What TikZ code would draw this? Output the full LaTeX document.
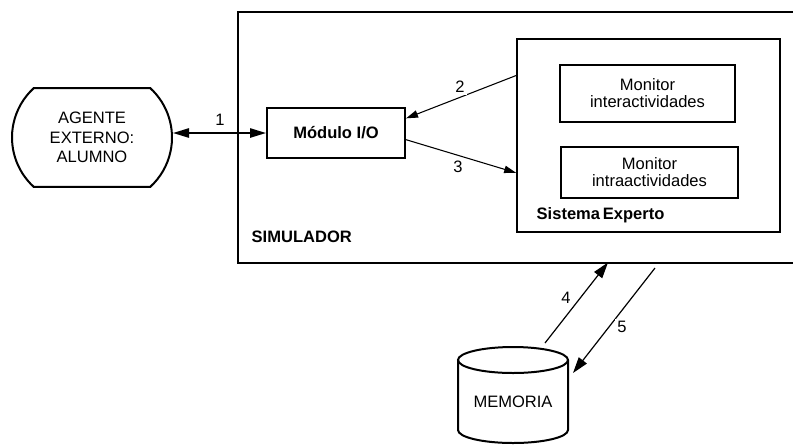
\documentclass[tikz,border=0pt]{standalone}
\usepackage{fontspec}
\setmainfont{Liberation Sans}
\usetikzlibrary{arrows.meta, shapes.misc}

\tikzset{
  box/.style={draw, line width=1.5pt, inner sep=0pt},
  flow/.style={line width=0.8pt, -{Triangle[length=9pt,width=5.5pt]}},
  bigflow/.style={line width=0.9pt, -{Triangle[length=12pt,width=7.5pt]}},
  num/.style={inner sep=1.5pt, fill=white}
}

\begin{document}
\begin{tikzpicture}[x=0.75pt, y=-0.75pt, font=\fontsize{12.4}{14.6}\selectfont]
  \useasboundingbox (0,0) rectangle (793,444);

  % Simulador (open on the right)
  \draw[line width=1.5pt] (793,12) -- (238,12) -- (238,262.5) -- (793,262.5);
  \node[anchor=west, font=\fontsize{12.4}{14.6}\selectfont\bfseries] (simlabel) at (247,237) {SIMULADOR};

  % External agent
  \node[box, rounded rectangle, rounded rectangle arc length=95, minimum width=120pt, minimum height=74pt, align=center] (agente) at (92,137.5) {AGENTE\\EXTERNO:\\ALUMNO};

  % I/O module
  \node[box, minimum width=103.5pt, minimum height=37.5pt, font=\fontsize{12.4}{14.6}\selectfont\bfseries] (modulo) at (336,133) {M\'odulo I/O};

  % Expert system with its monitors
  \node[box, minimum width=197pt, minimum height=145pt] (sistema) at (648.5,135.5) {};
  \node[anchor=west, font=\fontsize{12.4}{14.6}\selectfont\bfseries] (sislabel) at (532,215) {Sistema\,Experto};
  \node[box, minimum width=131pt, minimum height=43pt, align=center, font=\fontsize{12.4}{12.75}\selectfont] (inter) at (647.5,93.5) {Monitor\\interactividades};
  \node[box, minimum width=133pt, minimum height=38pt, align=center, font=\fontsize{12.4}{12.75}\selectfont] (intra) at (649.5,172.5) {Monitor\\intraactividades};

  % Memory (cylinder)
  \draw[line width=1.5pt] (458,360) -- (458,430) arc[start angle=180, end angle=0, x radius=55, y radius=13] -- (568,360);
  \draw[line width=1.5pt] (513,360) ellipse (55 and 13);
  \node (memoria) at (513,402) {MEMORIA};

  % Connectors
  \draw[line width=1.2pt, {Triangle[length=12pt,width=7pt]}-{Triangle[length=12pt,width=7pt]}] (agente.east |- modulo.west) -- (modulo.west);
  \node[num] (n1) at (220,120) {1};

  \draw[flow] ([yshift=45pt]sistema.west) -- ([yshift=11pt]modulo.east);
  \node[num] (n2) at (460,87) {2};

  \draw[flow] ([yshift=-5pt]modulo.east) -- ([yshift=-28pt]sistema.west);
  \node[num] (n3) at (458,167) {3};

  \coordinate (m4) at (545,343);
  \coordinate (s4) at (608,262.5);
  \coordinate (s5) at (655,268);
  \coordinate (m5) at (573,373);
  \draw[bigflow] (m4) -- (s4);
  \node[num] (n4) at (566,298) {4};
  \draw[bigflow] (s5) -- (m5);
  \node[num] (n5) at (622,327) {5};
\end{tikzpicture}
\end{document}
